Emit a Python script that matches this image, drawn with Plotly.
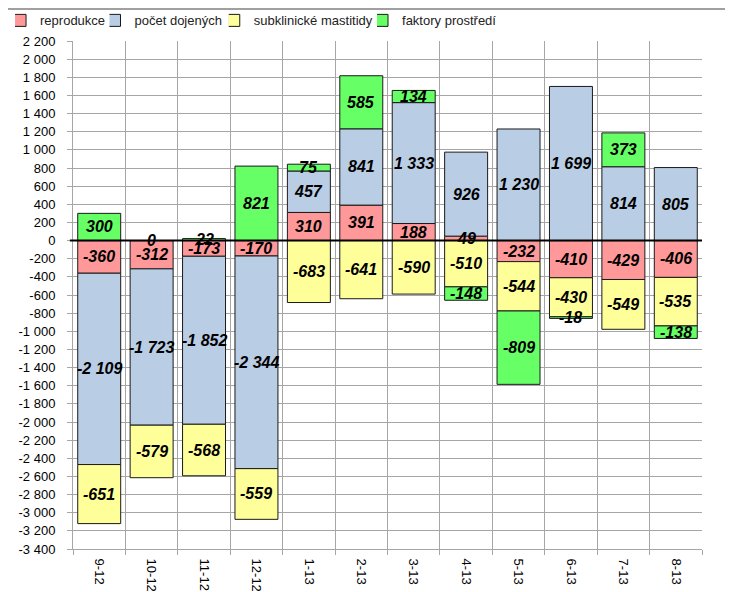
import plotly.graph_objects as go

categories = ["9-12", "10-12", "11-12", "12-12", "1-13", "2-13", "3-13", "4-13", "5-13", "6-13", "7-13", "8-13"]
reprodukce = [-360, -312, -173, -170, 310, 391, 188, 49, -232, -410, -429, -406]
pocet_dojenych = [-2109, -1723, -1852, -2344, 457, 841, 1333, 926, 1230, 1699, 814, 805]
subklinicke_mastitidy = [-651, -579, -568, -559, -683, -641, -590, -510, -544, -430, -549, -535]
faktory_prostredi = [300, 0, 22, 821, 75, 585, 134, -148, -809, -18, 373, -138]

series_names = ["reprodukce", "počet dojených", "subklinické mastitidy", "faktory prostředí"]
series_values = [reprodukce, pocet_dojenych, subklinicke_mastitidy, faktory_prostredi]
colors = ["#FF9999", "#B9CDE5", "#FFFF99", "#66FF66"]

y_tick_values = list(range(-3400, 2201, 200))


def fmt(v):
    return f"{v:,}".replace(",", " ")


legend_ids = ["legend", "legend2", "legend3", "legend4"]
legend_x = [0.0097, 0.140, 0.3045, 0.509]

fig = go.Figure()
for name, vals, col, lid in zip(series_names, series_values, colors, legend_ids):
    fig.add_trace(go.Bar(
        name=name, x=categories, y=vals, legend=lid, showlegend=True,
        marker=dict(color=col, line=dict(color="#1a1a1a", width=1)),
    ))

# labels at centre of each stacked segment (relative stacking)
annotations = []
pos = [0] * len(categories)
neg = [0] * len(categories)
for vals in series_values:
    for i, v in enumerate(vals):
        if v >= 0:
            mid = pos[i] + v / 2
            pos[i] += v
        else:
            mid = neg[i] + v / 2
            neg[i] += v
        annotations.append(dict(
            x=i, y=mid, xref="x", yref="y", showarrow=False,
            text=f"<b><i>{fmt(v)}</i></b>",
            font=dict(family="Liberation Sans", size=16, color="#000000"),
        ))

legend_common = dict(
    orientation="h", xref="container", xanchor="left", y=1.07, yanchor="top",
    font=dict(size=13, color="#222222"), itemwidth=30, indentation=-15,
    bgcolor="rgba(0,0,0,0)",
)

fig.update_layout(
    showlegend=True,
    barmode="relative",
    bargap=0.18,
    width=725, height=584,
    margin=dict(l=65, r=31, t=33, b=43, autoexpand=False),
    paper_bgcolor="white", plot_bgcolor="white",
    font=dict(family="Liberation Sans", size=13, color="#000000"),
    legend=dict(x=legend_x[0], **legend_common),
    legend2=dict(x=legend_x[1], **legend_common),
    legend3=dict(x=legend_x[2], **legend_common),
    legend4=dict(x=legend_x[3], **legend_common),
    annotations=annotations,
    shapes=[
        dict(type="line", xref="paper", yref="y", x0=-0.005, x1=1, y0=0, y1=0,
             line=dict(color="#000000", width=2), layer="above"),
        dict(type="line", xref="paper", yref="paper", x0=-0.2, x1=1.1,
             y0=1.063, y1=1.063, line=dict(color="#A0A0A0", width=2)),
    ],
)

fig.update_yaxes(
    range=[-3400, 2200],
    tickvals=y_tick_values,
    ticktext=[fmt(v) for v in y_tick_values],
    showgrid=True, gridcolor="#A6A6A6", gridwidth=1,
    zeroline=False,
    showline=True, linecolor="#A6A6A6", linewidth=1,
    ticks="outside", ticklen=5, tickcolor="#A6A6A6",
    ticklabelstandoff=9,
    tickfont=dict(size=13, color="#000000"),
    automargin=False,
)
fig.update_xaxes(
    type="category",
    categoryorder="array", categoryarray=categories,
    tickson="boundaries",
    showgrid=True, gridcolor="#A6A6A6", gridwidth=1,
    showline=True, linecolor="#A6A6A6", linewidth=1,
    ticks="outside", ticklen=5, tickcolor="#A6A6A6",
    ticklabelstandoff=6,
    tickangle=90,
    tickfont=dict(size=13, color="#000000"),
    automargin=False,
    mirror=False,
)

fig.write_html("out.html")
